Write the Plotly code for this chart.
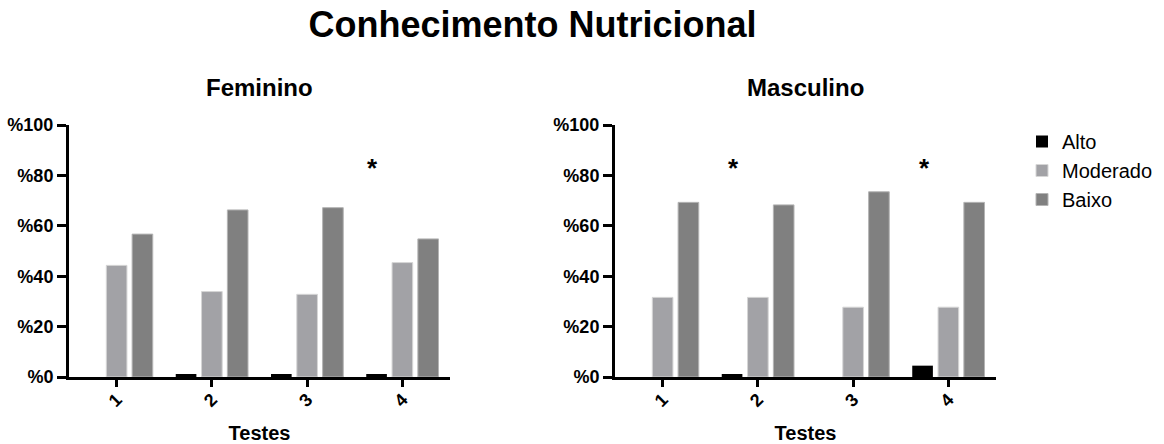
import plotly.graph_objects as go

# ---- data ----
testes = [1, 2, 3, 4]
tick_labels = ["1", "2", "3", "4"]
series_names = ["Alto", "Moderado", "Baixo"]

fem_alto = [0.0, 1.2, 1.2, 1.2]
fem_moderado = [44.3, 33.9, 32.8, 45.4]
fem_baixo = [56.7, 66.3, 67.2, 54.8]

masc_alto = [0.0, 1.2, 0.0, 4.5]
masc_moderado = [31.6, 31.6, 27.7, 27.7]
masc_baixo = [69.3, 68.3, 73.5, 69.3]

fem_stars = [4]
masc_stars = [2, 4]
star_level = 84

y_ticks = [0, 20, 40, 60, 80, 100]
y_tick_labels = ["%0", "%20", "%40", "%60", "%80", "%100"]

colors = {"Alto": "#000000", "Moderado": "#a2a2a6", "Baixo": "#808080"}
edge = {"Alto": "#000000", "Moderado": "#d6d6d6", "Baixo": "#b4b4b4"}
edge_w = {"Alto": 0, "Moderado": 1, "Baixo": 1}

FONT = "Liberation Sans, Arial, sans-serif"
W, H = 1164, 444

fig = go.Figure()

panels = [
    ("x", "y", [fem_alto, fem_moderado, fem_baixo], True),
    ("x2", "y2", [masc_alto, masc_moderado, masc_baixo], False),
]
for xa, ya, vals, show in panels:
    for name, v in zip(series_names, vals):
        fig.add_trace(go.Bar(
            x=testes, y=v, name=name, xaxis=xa, yaxis=ya,
            marker=dict(color=colors[name], line=dict(color=edge[name], width=edge_w[name])),
            showlegend=show, legendgroup=name,
        ))

# domains (pixels -> paper)
lx0, lx1 = 69, 450
rx0, rx1 = 615, 996
y_bot, y_top = 377, 125

axis_common = dict(
    showline=True, linecolor="black", linewidth=3, showgrid=False, zeroline=False,
    ticks="outside", tickcolor="black", tickwidth=3, automargin=False,
)
xcommon = dict(axis_common, range=[0.5, 4.5], tickvals=testes, ticktext=tick_labels,
               tickangle=-45, ticklen=7, ticklabelstandoff=-5,
               tickfont=dict(family=FONT, size=18, color="black", weight="bold"),
               title=dict(text="<b>Testes</b>", font=dict(family=FONT, size=20, color="black"),
                          standoff=17))
ycommon = dict(axis_common, range=[0, 100], tickvals=y_ticks, ticktext=y_tick_labels,
               ticklen=9,
               tickfont=dict(family=FONT, size=18, color="black", weight="bold"))

fig.update_layout(
    template="none",
    xaxis=dict(xcommon, domain=[lx0 / W, lx1 / W], anchor="y"),
    yaxis=dict(ycommon, domain=[(H - y_bot) / H, (H - y_top) / H], anchor="x"),
    xaxis2=dict(xcommon, domain=[rx0 / W, rx1 / W], anchor="y2"),
    yaxis2=dict(ycommon, domain=[(H - y_bot) / H, (H - y_top) / H], anchor="x2"),
)

annotations = []
for xr, yr, stars, shift in [("x", "y", fem_stars, -30), ("x2", "y2", masc_stars, -24)]:
    for s in stars:
        annotations.append(dict(
            x=s, y=star_level, xref=xr, yref=yr, text="<b>*</b>", showarrow=False,
            xshift=shift, yshift=-3, font=dict(family=FONT, size=26, color="black"),
        ))
for text, x0, x1 in [("Feminino", lx0, lx1), ("Masculino", rx0, rx1)]:
    annotations.append(dict(
        x=(x0 + x1) / 2 / W, y=(H - 88) / H, xref="paper", yref="paper",
        text="<b>" + text + "</b>", showarrow=False, xanchor="center", yanchor="middle",
        font=dict(family=FONT, size=24, color="black"),
    ))

fig.update_layout(
    annotations=annotations,
    title=dict(text="<b>Conhecimento Nutricional</b>", x=532.5 / W, xanchor="center",
               y=(H - 24) / H, yanchor="middle",
               font=dict(family=FONT, size=36, color="black")),
    barmode="group", bargap=0.187, bargroupgap=0.2,
    width=W, height=H, margin=dict(l=0, r=0, t=0, b=0, autoexpand=False),
    paper_bgcolor="white", plot_bgcolor="white",
    legend=dict(x=1022 / W, y=(H - 122) / H, xanchor="left", yanchor="top",
                font=dict(family=FONT, size=20, color="black"),
                bgcolor="rgba(0,0,0,0)", itemwidth=30, tracegroupgap=0),
    font=dict(family=FONT, color="black"),
)

fig.write_html(
    "out.html",
    config={"displayModeBar": False},
    post_script="document.body.style.margin='0';document.body.style.overflow='hidden';",
)
